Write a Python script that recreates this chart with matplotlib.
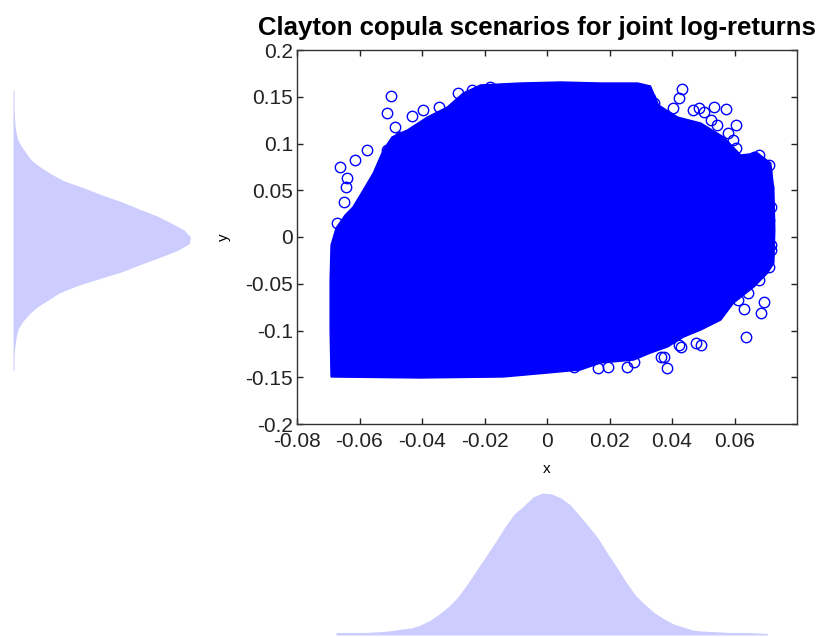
import numpy as np
import matplotlib.pyplot as plt

plt.rcParams['font.family'] = ['Liberation Sans', 'DejaVu Sans']

# outline of the dense cloud of scenarios
cloud_x = [-0.0691, -0.0694, -0.0694, -0.0691, -0.0675, -0.0646, -0.0621, -0.0588, -0.0556,
           -0.0524, -0.0496, -0.0447, -0.0383, -0.0319, -0.0268, -0.0213, -0.0085, 0.0043,
           0.0171, 0.0290, 0.0331, 0.0357, 0.0418, 0.0492, 0.0565, 0.0620, 0.0674, 0.0716,
           0.0726, 0.0729, 0.0726, 0.0706, 0.0662, 0.0597, 0.0556, 0.0492, 0.0437, 0.0386,
           0.0331, 0.0277, 0.0171, 0.0107, 0.0001, -0.0140, -0.0406]
cloud_y = [-0.1497, -0.0995, -0.0460, -0.0086, 0.0096, 0.0235, 0.0321, 0.0503, 0.0684,
           0.0930, 0.1070, 0.1144, 0.1283, 0.1390, 0.1540, 0.1626, 0.1647, 0.1658,
           0.1647, 0.1647, 0.1615, 0.1412, 0.1283, 0.1219, 0.1070, 0.0877, 0.0898, 0.0791,
           0.0503, 0.0075, -0.0278, -0.0385, -0.0535, -0.0706, -0.0888, -0.0995, -0.1070, -0.1176,
           -0.1241, -0.1316, -0.1348, -0.1422, -0.1455, -0.1497, -0.1508]

# single scenarios drawn as circles around the rim of the cloud
out_x = [-0.0500, -0.0511, -0.0662, -0.0614, -0.0577, -0.0649, -0.0673, -0.0641, -0.0644,
         -0.0432, -0.0397, -0.0486, -0.0345, -0.0284, 0.0433, 0.0421, 0.0572, 0.0533,
         0.0604, 0.0485, 0.0545, 0.0694, 0.0710, 0.0677, 0.0604, 0.0636, 0.0631, 0.0684,
         0.0694, 0.0678, 0.0476, 0.0383, 0.0257, 0.0364, 0.0421, 0.0711, 0.0716,
         0.0194, 0.0213, 0.0331, 0.0341, 0.0402, 0.0466, 0.0501, 0.0524, 0.0578, 0.0594,
         0.0662, 0.0684, 0.0700, 0.0707, 0.0716, 0.0710,
         0.0716, 0.0642, 0.0610, 0.0492, 0.0428, 0.0373, 0.0277, 0.0194, 0.0085, 0.0162,
         -0.0239, -0.0181, -0.0470, -0.0512]
out_y = [0.1508, 0.1323, 0.0752, 0.0824, 0.0930, 0.0378, 0.0150, 0.0631, 0.0538,
         0.1294, 0.1358, 0.1180, 0.1394, 0.1540, 0.1580, 0.1487, 0.1369, 0.1390,
         0.1198, 0.1380, 0.1198, 0.0631, 0.0770, 0.0877, 0.0950, -0.1066, -0.0773, -0.0816,
         -0.0692, -0.0460, -0.1137, -0.1398, -0.1387, -0.1280, -0.1155, -0.0318, -0.0086,
         0.1572, 0.1551, 0.1487, 0.1433, 0.1380, 0.1358, 0.1337, 0.1251, 0.1112, 0.1037,
         0.0856, 0.0791, 0.0695, 0.0535, 0.0321, 0.0182,
         -0.0139, -0.0599, -0.0674, -0.1155, -0.1176, -0.1283, -0.1337, -0.1390, -0.1390, -0.1401,
         0.1572, 0.1604, 0.1070, 0.0930]

# marginal histograms (bin centres and relative heights)
x_bins = np.linspace(-0.0675, 0.0705, 47)
x_counts = [2.5, 2.5, 2.5, 2.5, 3, 3.5, 4.5, 6, 7, 10,
            14.5, 21, 28.5, 38, 51, 65, 79, 93, 108, 121,
            129, 138, 142, 141, 137, 130, 119, 108, 96, 81,
            67, 52, 39, 30, 22, 16, 11, 8, 5, 4,
            3.5, 3, 2.5, 2.5, 2.5, 2, 1.5]
y_bins = np.linspace(-0.1425, 0.1575, 41)
y_counts = [1, 1, 1.2, 1.5, 2.5, 3.5, 5.5, 10, 16, 24,
            35, 46, 63, 85, 108, 126, 145, 163, 176, 177.5,
            171, 158, 144, 126, 109, 89, 71, 51, 38, 27,
            18, 13, 8, 4.5, 3, 2, 1.5, 1.2, 1, 1, 1]

x_ticks = [-0.08, -0.06, -0.04, -0.02, 0, 0.02, 0.04, 0.06]
x_labels = ['-0.08', '-0.06', '-0.04', '-0.02', '0', '0.02', '0.04', '0.06']
y_ticks = [-0.2, -0.15, -0.1, -0.05, 0, 0.05, 0.1, 0.15, 0.2]
y_labels = ['-0.2', '-0.15', '-0.1', '-0.05', '0', '0.05', '0.1', '0.15', '0.2']

hist_color = '#ccccff'

fig = plt.figure(figsize=(8.27, 6.37), dpi=100)
ax = fig.add_axes([297 / 827, 213 / 637, 500 / 827, 374 / 637])
ax_left = fig.add_axes([13 / 827, 213 / 637, 184 / 827, 374 / 637], sharey=ax)
ax_bot = fig.add_axes([297 / 827, 2 / 637, 500 / 827, 150 / 637], sharex=ax)

# main scatter
ax.fill(cloud_x, cloud_y, facecolor='blue', edgecolor='blue', linewidth=1)
ax.plot(out_x, out_y, 'o', mfc='none', mec='blue', ms=7.5, mew=1)

ax.set_xlim(-0.08, 0.08)
ax.set_ylim(-0.2, 0.2)
ax.set_xticks(x_ticks)
ax.set_xticklabels(x_labels)
ax.set_yticks(y_ticks)
ax.set_yticklabels(y_labels, va='center_baseline')
ax.tick_params(direction='in', length=4, width=1, top=True, right=True,
               labelsize=15, colors='#222222', pad=3)
ax.tick_params(axis='x', pad=6)
for s in ax.spines.values():
    s.set_color('#333333')
    s.set_linewidth(1)
ax.set_xlabel('x', fontsize=11, labelpad=8)
ax.set_ylabel('y', fontsize=11, labelpad=10)
ax.set_title('Clayton copula scenarios for joint log-returns',
             fontsize=18.5, fontweight='bold', pad=11, x=0.48)

# marginals
ax_left.fill_betweenx(y_bins, 0, y_counts, color=hist_color, linewidth=0)
ax_left.set_xlim(0, 184)
ax_left.axis('off')

ax_bot.fill_between(x_bins, 0, x_counts, color=hist_color, linewidth=0)
ax_bot.set_ylim(0, 150)
ax_bot.axis('off')

fig.savefig('out.png', dpi=100)
